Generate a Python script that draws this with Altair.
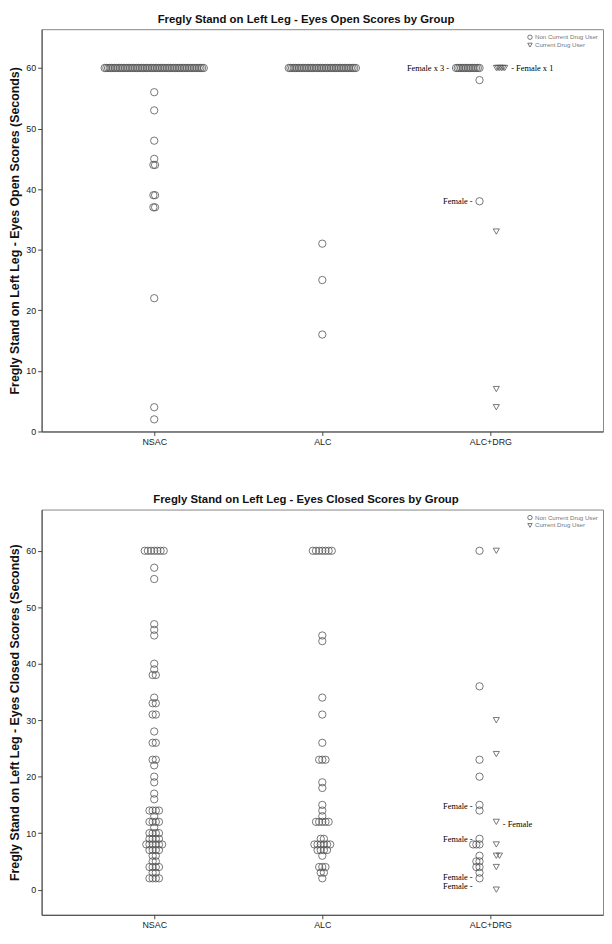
import altair as alt
import pandas as pd

GROUPS = ["NSAC", "ALC", "ALC+DRG"]
USERS = ["Non Current Drug User", "Current Drug User"]

# ---- Eyes open (value, count) ----
OPEN_NSAC_VALUES = [60, 56, 53, 48, 45, 44, 39, 37, 22, 4, 2]
OPEN_NSAC_COUNTS = [60, 1, 1, 1, 1, 2, 2, 2, 1, 1, 1]
OPEN_ALC_VALUES = [60, 31, 25, 16]
OPEN_ALC_COUNTS = [41, 1, 1, 1]
OPEN_DRG_NON_VALUES = [60, 58, 38]
OPEN_DRG_NON_COUNTS = [15, 1, 1]
OPEN_DRG_CUR_VALUES = [60, 33, 7, 4]
OPEN_DRG_CUR_COUNTS = [6, 1, 1, 1]

# ---- Eyes closed (value, count) ----
CLOSED_NSAC_VALUES = [60, 57, 55, 47, 46, 45, 40, 39, 38, 34, 33, 31, 28, 26, 23, 22, 20, 19, 17, 16,
                      14, 13, 12, 11, 10, 9, 8, 7, 6, 5, 4, 3, 2]
CLOSED_NSAC_COUNTS = [7, 1, 1, 1, 1, 1, 1, 1, 2, 1, 2, 2, 1, 2, 2, 1, 1, 1, 1, 1,
                      4, 1, 4, 1, 4, 4, 6, 4, 2, 2, 4, 2, 4]
CLOSED_ALC_VALUES = [60, 45, 44, 34, 31, 26, 23, 19, 18, 15, 14, 13, 12, 9, 8, 7, 6, 4, 3, 2]
CLOSED_ALC_COUNTS = [7, 1, 1, 1, 1, 1, 3, 1, 1, 1, 1, 1, 5, 2, 6, 4, 1, 3, 2, 1]
CLOSED_DRG_NON_VALUES = [60, 36, 23, 20, 15, 14, 9, 8, 6, 5, 4, 3, 2]
CLOSED_DRG_NON_COUNTS = [1, 1, 1, 1, 1, 1, 1, 3, 1, 2, 2, 1, 1]
CLOSED_DRG_CUR_VALUES = [60, 30, 24, 12, 8, 6, 4, 0]
CLOSED_DRG_CUR_COUNTS = [1, 1, 1, 1, 1, 2, 1, 1]

# ---- Annotations ----
OPEN_NOTE_TEXT = ["Female x 3 -", "- Female x 1", "Female -"]
OPEN_NOTE_VALUE = [60, 60, 38]
OPEN_NOTE_SIDE = ["left", "right", "left"]
CLOSED_NOTE_TEXT = ["Female -", "- Female", "Female -", "Female -", "Female -"]
CLOSED_NOTE_VALUE = [14.8, 11.6, 8.9, 2.3, 0.6]
CLOSED_NOTE_SIDE = ["left", "right", "left", "left", "left"]

TITLE_OPEN = "Fregly Stand on Left Leg - Eyes Open Scores by Group"
TITLE_CLOSED = "Fregly Stand on Left Leg - Eyes Closed Scores by Group"
YTITLE_OPEN = "Fregly Stand on Left Leg - Eyes Open Scores (Seconds)"
YTITLE_CLOSED = "Fregly Stand on Left Leg - Eyes Closed Scores (Seconds)"

# ---- style / layout constants ----
WIDTH = 568
XPAD = 0.67
XDOM = [1 - XPAD, 3 + XPAD]
PXU = WIDTH / (XDOM[1] - XDOM[0])
BASE_PX = {USERS[0]: -11, USERS[1]: 6}
RADIUS = {USERS[0]: 4, USERS[1]: 3.5}
GAP = 3
FONT = "Liberation Sans"
MARK_COLOR = "#555"


def build(specs, spacing):
    rows = []
    for group, user, values, counts in specs:
        gi = GROUPS.index(group) + 1
        mixed = group == "ALC+DRG"
        for v, n in zip(values, counts):
            for i in range(n):
                if mixed:
                    d = -1 if user == USERS[0] else 1
                    off = BASE_PX[user] + d * i * spacing
                else:
                    off = (i - (n - 1) / 2) * spacing
                rows.append(dict(group=group, user=user, value=v, px=off, x=gi + off / PXU))
    return pd.DataFrame(rows)


def notes(df, texts, values, sides):
    rows = []
    gi = 3
    for t, v, s in zip(texts, values, sides):
        user = USERS[0] if s == "left" else USERS[1]
        sub = df[(df.group == "ALC+DRG") & (df.user == user) & ((df.value - v).abs() < 0.6)]
        if s == "left":
            edge = (sub.px.min() if len(sub) else BASE_PX[user]) - RADIUS[user] - GAP
        else:
            edge = (sub.px.max() if len(sub) else BASE_PX[user]) + RADIUS[user] + GAP
        rows.append(dict(label=t, value=v, side=s, x=gi + edge / PXU))
    return pd.DataFrame(rows)


open_df = build([
    ("NSAC", USERS[0], OPEN_NSAC_VALUES, OPEN_NSAC_COUNTS),
    ("ALC", USERS[0], OPEN_ALC_VALUES, OPEN_ALC_COUNTS),
    ("ALC+DRG", USERS[0], OPEN_DRG_NON_VALUES, OPEN_DRG_NON_COUNTS),
    ("ALC+DRG", USERS[1], OPEN_DRG_CUR_VALUES, OPEN_DRG_CUR_COUNTS),
], 1.7)
closed_df = build([
    ("NSAC", USERS[0], CLOSED_NSAC_VALUES, CLOSED_NSAC_COUNTS),
    ("ALC", USERS[0], CLOSED_ALC_VALUES, CLOSED_ALC_COUNTS),
    ("ALC+DRG", USERS[0], CLOSED_DRG_NON_VALUES, CLOSED_DRG_NON_COUNTS),
    ("ALC+DRG", USERS[1], CLOSED_DRG_CUR_VALUES, CLOSED_DRG_CUR_COUNTS),
], 3.2)
open_notes = notes(open_df, OPEN_NOTE_TEXT, OPEN_NOTE_VALUE, OPEN_NOTE_SIDE)
closed_notes = notes(closed_df, CLOSED_NOTE_TEXT, CLOSED_NOTE_VALUE, CLOSED_NOTE_SIDE)


def panel(df, nd, title, ytitle, ydom, height):
    xenc = alt.X("x:Q", scale=alt.Scale(domain=XDOM, nice=False, zero=False),
                 axis=alt.Axis(values=[1, 2, 3], title=None, grid=False,
                               labelExpr="['', 'NSAC', 'ALC', 'ALC+DRG'][datum.value]"))
    yenc = alt.Y("value:Q", scale=alt.Scale(domain=ydom, nice=False, zero=False),
                 axis=alt.Axis(values=[0, 10, 20, 30, 40, 50, 60], title=ytitle, grid=False))
    pts = alt.Chart(df).mark_point(filled=False, strokeWidth=0.8, opacity=1, color=MARK_COLOR).encode(
        x=xenc, y=yenc,
        shape=alt.Shape("user:N", scale=alt.Scale(domain=USERS, range=["circle", "triangle-down"]),
                        legend=alt.Legend(title=None, orient="top-right", offset=5, padding=0,
                                          rowPadding=0, labelFontSize=6.2, labelColor="#777",
                                          labelFont=FONT, symbolSize=20, symbolStrokeWidth=0.8,
                                          symbolStrokeColor=MARK_COLOR, symbolFillColor="white",
                                          labelOffset=2, labelLimit=200)),
        size=alt.condition("datum.user == 'Current Drug User'", alt.value(38), alt.value(55)),
    )
    left = alt.Chart(nd).transform_filter("datum.side == 'left'").mark_text(
        font="Liberation Serif", fontSize=8.5, color="#000", fill="#000", align="right", baseline="middle"
    ).encode(x="x:Q", y="value:Q", text="label:N")
    right = alt.Chart(nd).transform_filter("datum.side == 'right'").mark_text(
        font="Liberation Serif", fontSize=8.5, color="#000", fill="#000", align="left", baseline="middle"
    ).encode(x="x:Q", y="value:Q", text="label:N")
    return alt.layer(pts, left, right).properties(
        width=WIDTH, height=height,
        title=alt.TitleParams(title, fontSize=11.5, font=FONT, fontWeight="bold", anchor="middle",
                              frame="bounds", offset=4, color="#111"),
    )


top = panel(open_df, open_notes, TITLE_OPEN, YTITLE_OPEN, [0, 66.4], 407)
bottom = panel(closed_df, closed_notes, TITLE_CLOSED, YTITLE_CLOSED, [-4.46, 67.3], 410)

chart = alt.vconcat(top, bottom, spacing=47).resolve_scale(
    y="independent", shape="independent"
).resolve_legend(shape="independent").properties(padding=0).configure_axis(
    labelFont=FONT, labelFontSize=9, labelColor="#222", titleFont=FONT, titleFontSize=12.5,
    titleFontWeight="bold", titleColor="#111", domainColor="#444", tickColor="#444",
    tickSize=4, labelPadding=2, titlePadding=4, grid=False
).configure_view(stroke="#888", strokeWidth=1)

chart.save("out.html", embed_options={"renderer": "svg", "actions": False})
